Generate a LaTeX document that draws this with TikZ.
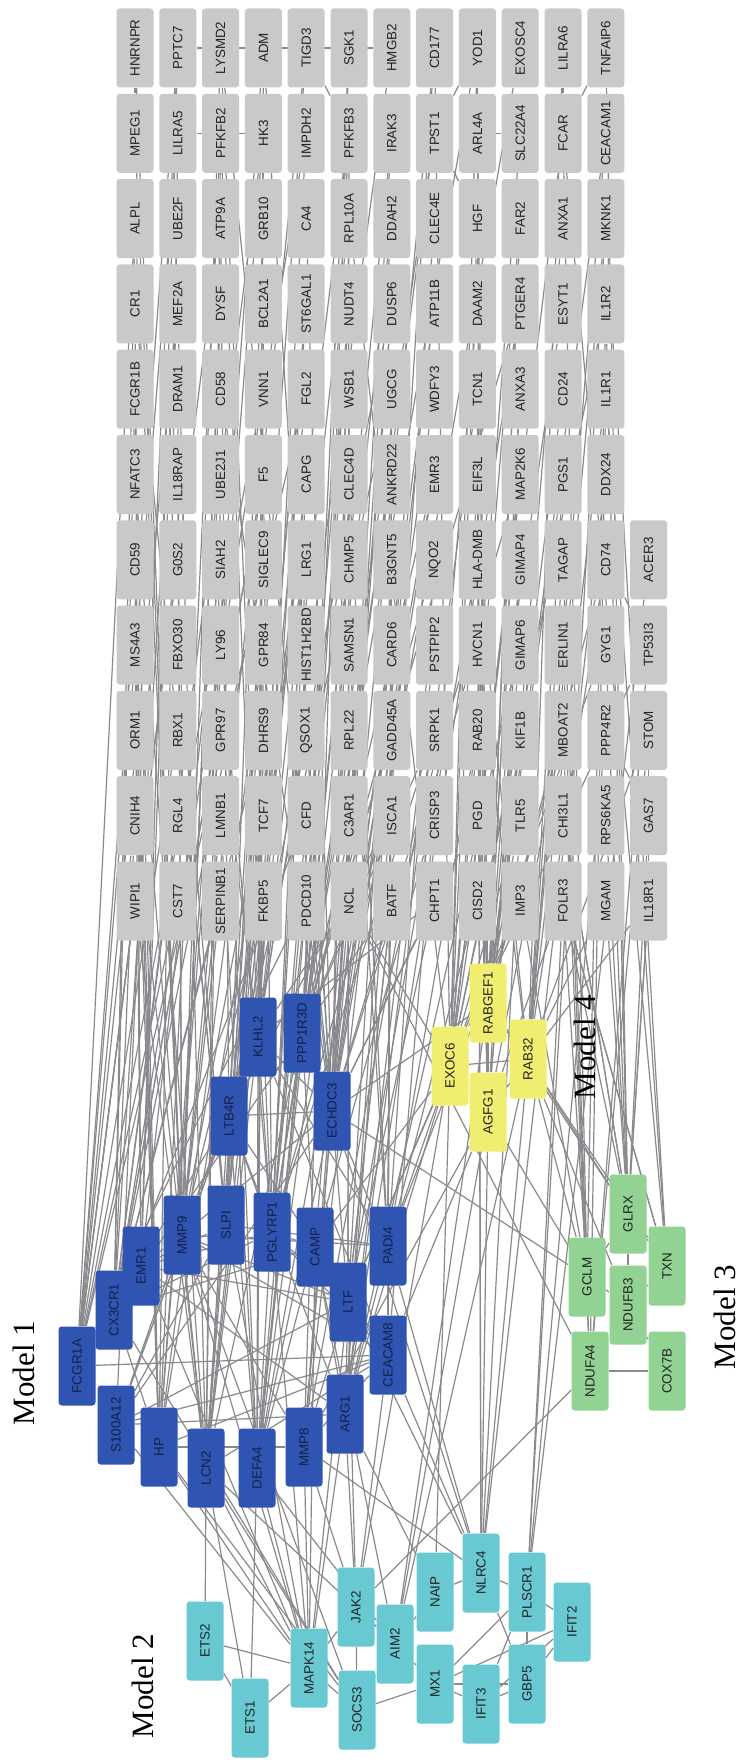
\documentclass[tikz,border=0pt]{standalone}
\usepackage{fontspec}
\setmainfont{Liberation Serif}
\newfontfamily\lblfont{Liberation Sans}
\usetikzlibrary{backgrounds}
\definecolor{boxgrey}{RGB}{201,201,201}
\definecolor{txtgrey}{RGB}{35,35,35}
\definecolor{edgegrey}{RGB}{138,138,142}
\definecolor{mblue}{RGB}{47,84,178}
\definecolor{bluetxt}{RGB}{22,32,72}
\definecolor{mcyan}{RGB}{104,201,210}
\definecolor{mgreen}{RGB}{146,210,146}
\definecolor{myellow}{RGB}{240,238,112}
\def\gridrows{%
{HNRNPR,PPTC7,LYSMD2,ADM,TIGD3,SGK1,HMGB2,CD177,YOD1,EXOSC4,LILRA6,TNFAIP6},%
{MPEG1,LILRA5,PFKFB2,HK3,IMPDH2,PFKFB3,IRAK3,TPST1,ARL4A,SLC22A4,FCAR,CEACAM1},%
{ALPL,UBE2F,ATP9A,GRB10,CA4,RPL10A,DDAH2,CLEC4E,HGF,FAR2,ANXA1,MKNK1},%
{CR1,MEF2A,DYSF,BCL2A1,ST6GAL1,NUDT4,DUSP6,ATP11B,DAAM2,PTGER4,ESYT1,IL1R2},%
{FCGR1B,DRAM1,CD58,VNN1,FGL2,WSB1,UGCG,WDFY3,TCN1,ANXA3,CD24,IL1R1},%
{NFATC3,IL18RAP,UBE2J1,F5,CAPG,CLEC4D,ANKRD22,EMR3,EIF3L,MAP2K6,PGS1,DDX24},%
{CD59,G0S2,SIAH2,SIGLEC9,LRG1,CHMP5,B3GNT5,NQO2,HLA-DMB,GIMAP4,TAGAP,CD74,ACER3},%
{MS4A3,FBXO30,LY96,GPR84,HIST1H2BD,SAMSN1,CARD6,PSTPIP2,HVCN1,GIMAP6,ERLIN1,GYG1,TP53I3},%
{ORM1,RBX1,GPR97,DHRS9,QSOX1,RPL22,GADD45A,SRPK1,RAB20,KIF1B,MBOAT2,PPP4R2,STOM},%
{CNIH4,RGL4,LMNB1,TCF7,CFD,C3AR1,ISCA1,CRISP3,PGD,TLR5,CHI3L1,RPS6KA5,GAS7},%
{WIPI1,CST7,SERPINB1,FKBP5,PDCD10,NCL,BATF,CHPT1,CISD2,IMP3,FOLR3,MGAM,IL18R1}}
\def\bluelist{FCGR1A,CX3CR1,EMR1,MMP9,SLPI,PGLYRP1,CAMP,LTF,LTB4R,KLHL2,PPP1R3D,ECHDC3,S100A12,HP,LCN2,DEFA4,MMP8,ARG1,CEACAM8,PADI4}
\begin{document}
\begin{tikzpicture}[x=0.5pt,y=-0.5pt,
  gene/.style={rectangle, rounded corners=1.6pt, inner sep=0pt,
    minimum width=18.5pt, minimum height=39.5pt,
    font=\lblfont\fontsize{6.7}{7}\selectfont, text=txtgrey},
  gnode/.style={gene, fill=boxgrey},
  bnode/.style={gene, fill=mblue, text=bluetxt},
  cnode/.style={gene, fill=mcyan},
  grnode/.style={gene, fill=mgreen},
  ynode/.style={gene, fill=myellow},
  edge/.style={draw=edgegrey, line width=0.6pt},
  modlabel/.style={font=\fontsize{15.5}{16}\selectfont, rotate=90, inner sep=0pt, text=black}]
\useasboundingbox (0,0) rectangle (739,1760);

% grey grid
\foreach \row [count=\j from 0] in \gridrows {
  \foreach \name [count=\i from 0] in \row {
    \node[gnode] (\name) at ({135+42.8*\i},{48+85.3*\j}) {\rotatebox{90}{\name}};
  }
}

% Model 1 (blue)
\foreach \name/\px/\py in {FCGR1A/77/1366, EMR1/141/1266, CX3CR1/114/1310, MMP9/182/1235,
  SLPI/226/1225, PGLYRP1/272/1232, CAMP/315/1247, LTF/348/1302, LTB4R/229/1116,
  KLHL2/258/1037, PPP1R3D/302/1033, ECHDC3/332/1111, S100A12/116/1425, HP/159/1447,
  LCN2/206/1468, DEFA4/257/1468, MMP8/304/1447, ARG1/345/1414, CEACAM8/388/1355, PADI4/388/1246}
  \node[bnode] (\name) at (\px,\py) {\rotatebox{90}{\name}};

% Model 4 (yellow)
\foreach \name/\px/\py in {RABGEF1/488/1003, EXOC6/450/1066, RAB32/528/1059, AGFG1/488/1112}
  \node[ynode] (\name) at (\px,\py) {\rotatebox{90}{\name}};

% Model 3 (green)
\foreach \name/\px/\py in {GLRX/628/1214, GCLM/587/1277, TXN/667/1266, NDUFB3/628/1305,
  NDUFA4/590/1371, COX7B/667/1371}
  \node[grnode] (\name) at (\px,\py) {\rotatebox{90}{\name}};

% Model 2 (cyan)
\foreach \name/\px/\py in {ETS2/205/1641, ETS1/250/1718, MAPK14/309/1668, JAK2/356/1607,
  SOCS3/357/1710, AIM2/395/1644, NAIP/435/1592, MX1/435/1684, NLRC4/481/1573,
  IFIT3/481/1704, PLSCR1/527/1592, GBP5/527/1684, IFIT2/572/1622}
  \node[cnode] (\name) at (\px,\py) {\rotatebox{90}{\name}};

% labels
\node[modlabel] (m1) at (24,1373) {Model 1};
\node[modlabel] (m2) at (143,1686) {Model 2};
\node[modlabel] (m3) at (725,1317) {Model 3};
\node[modlabel] (m4) at (585,1047) {Model 4};

% ---------------- edges ----------------
\pgfmathsetseed{17}
\pgfmathdeclarerandomlist{grp1}{{FCGR1A}{FCGR1A}{FCGR1A}{S100A12}{S100A12}{CX3CR1}{EMR1}{HP}{MMP9}{LCN2}{SLPI}}
\pgfmathdeclarerandomlist{grp2}{{MMP9}{SLPI}{LTB4R}{KLHL2}{KLHL2}{LCN2}{DEFA4}{PGLYRP1}{HP}{EMR1}{CX3CR1}{FCGR1A}{ECHDC3}}
\pgfmathdeclarerandomlist{grp3}{{KLHL2}{PPP1R3D}{PPP1R3D}{ECHDC3}{ECHDC3}{CAMP}{LTF}{MMP8}{ARG1}{PADI4}{PGLYRP1}{LTB4R}{EXOC6}{DEFA4}}
\pgfmathdeclarerandomlist{grp4}{{PADI4}{CEACAM8}{EXOC6}{EXOC6}{RABGEF1}{RABGEF1}{AGFG1}{RAB32}{LTF}{ARG1}{ECHDC3}{NLRC4}{PPP1R3D}}
\pgfmathdeclarerandomlist{grp5}{{RAB32}{RAB32}{AGFG1}{RABGEF1}{GLRX}{GLRX}{GCLM}{TXN}{NDUFA4}{NLRC4}{PLSCR1}{EXOC6}}
\begin{scope}[on background layer]
\fill[white] (0,0) rectangle (739,1760);
\foreach \row [count=\j from 0] in \gridrows {
  \foreach \name [count=\i from 0] in \row {
    \pgfmathtruncatemacro{\grp}{\i<2 ? 1 : (\i<5 ? 2 : (\i<8 ? 3 : (\i<10 ? 4 : 5)))}
    \pgfmathrandominteger{\k}{1}{3}
    \foreach \t in {1,...,\k} {
      \pgfmathrandomitem{\tgt}{grp\grp}
      \draw[edge] (\name) -- (\tgt);
    }
  }
}
% dense blue cluster
\foreach \a [count=\ia] in \bluelist {
  \foreach \b [count=\ib] in \bluelist {
    \ifnum\ib>\ia\relax
      \pgfmathsetmacro{\r}{rnd}
      \ifdim\r pt<0.42pt \draw[edge] (\a) -- (\b);\fi
    \fi
  }
}
% grid-grid
\foreach \a/\b in {PPTC7/HMGB2, LILRA5/HK3, HNRNPR/MPEG1, TIGD3/PFKFB3, YOD1/TPST1,
  FCAR/TNFAIP6, LILRA6/FCAR, ARL4A/SLC22A4, CD74/TP53I3, TPST1/HGF, PPP4R2/GAS7, STOM/IL18R1}
  \draw[edge] (\a) -- (\b);
% cyan internal
\foreach \a/\b in {ETS2/ETS1, ETS2/MAPK14, ETS1/MAPK14, MAPK14/SOCS3, MAPK14/JAK2, JAK2/SOCS3,
  JAK2/AIM2, SOCS3/AIM2, SOCS3/MX1, AIM2/NAIP, AIM2/MX1, NAIP/NLRC4, NLRC4/PLSCR1, NLRC4/GBP5,
  MX1/IFIT3, MX1/GBP5, MX1/PLSCR1, IFIT3/GBP5, IFIT3/PLSCR1, PLSCR1/GBP5, PLSCR1/IFIT2,
  GBP5/IFIT2, IFIT3/IFIT2, MX1/IFIT2}
  \draw[edge] (\a) -- (\b);
% cyan - blue and others
\foreach \a/\b in {LCN2/ETS2, LCN2/ETS1, DEFA4/ETS1, LCN2/MAPK14, DEFA4/MAPK14, MMP8/MAPK14,
  ARG1/MAPK14, HP/MAPK14, S100A12/MAPK14, CAMP/MAPK14, LTF/MAPK14, MMP9/MAPK14, PGLYRP1/MAPK14,
  SLPI/MAPK14, EMR1/MAPK14, CX3CR1/SOCS3, HP/SOCS3, LCN2/SOCS3, MMP8/JAK2, ARG1/JAK2,
  CEACAM8/JAK2, LTF/JAK2, MMP9/SOCS3, DEFA4/AIM2, CAMP/AIM2, PADI4/NLRC4, CEACAM8/NLRC4,
  LTF/NLRC4, ECHDC3/NLRC4, MMP8/NLRC4, ARG1/NAIP, LCN2/AIM2, NDUFA4/JAK2, PLSCR1/FOLR3,
  NAIP/EXOC6, AIM2/RABGEF1, NLRC4/RAB32, NLRC4/AGFG1, JAK2/EXOC6, AIM2/AGFG1, AIM2/RAB32}
  \draw[edge] (\a) -- (\b);
% yellow and green
\foreach \a/\b in {EXOC6/RABGEF1, EXOC6/AGFG1, EXOC6/RAB32, RABGEF1/RAB32, AGFG1/RAB32,
  RABGEF1/AGFG1, RAB32/GLRX, RAB32/TXN, RAB32/NDUFB3, RAB32/GCLM, AGFG1/GCLM, RABGEF1/GLRX,
  EXOC6/PADI4, EXOC6/LTF, EXOC6/CAMP, RABGEF1/ECHDC3, AGFG1/CEACAM8, EXOC6/ARG1, AGFG1/MMP8,
  GCLM/GLRX, GCLM/NDUFB3, GLRX/TXN, TXN/NDUFB3, GLRX/NDUFB3, NDUFA4/COX7B, NDUFA4/NDUFB3,
  NDUFB3/COX7B, ECHDC3/GCLM, NCL/NDUFA4, FOLR3/GLRX, MGAM/GLRX, FOLR3/TXN, CHI3L1/GLRX, IMP3/GCLM}
  \draw[edge] (\a) -- (\b);
\end{scope}
\end{tikzpicture}
\end{document}
